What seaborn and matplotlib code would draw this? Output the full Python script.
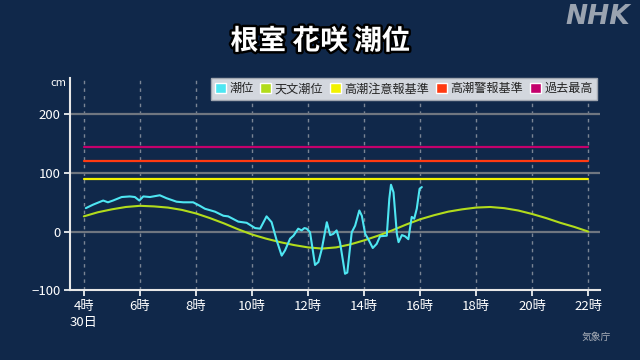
import matplotlib
matplotlib.use('Agg')
import matplotlib.pyplot as plt
import matplotlib.patheffects as pe
from matplotlib.patches import Patch
import seaborn as sns
import pandas as pd

# 潮位 (observed), hours since 0時 on 30日
obs_hour = [4.07, 4.33, 4.69, 4.86, 5.04, 5.35, 5.64, 5.82, 5.98, 6.12, 6.36, 6.71, 6.95,
            7.31, 7.55, 7.9, 8.14, 8.32, 8.68, 8.98, 9.15, 9.51, 9.81, 10.11, 10.29, 10.52,
            10.7, 10.88, 11.06, 11.18, 11.36, 11.48, 11.65, 11.77, 11.87, 11.95, 12.07,
            12.25, 12.37, 12.49, 12.67, 12.79, 12.9, 13.02, 13.14, 13.32, 13.4, 13.56,
            13.68, 13.83, 13.92, 14.04, 14.15, 14.31, 14.45, 14.57, 14.81, 14.9, 14.96,
            15.05, 15.17, 15.23, 15.35, 15.46, 15.58, 15.7, 15.79, 15.88, 15.98, 16.06]
obs_cm = [40, 46, 53, 50, 53, 59, 60, 59, 53, 60, 59, 62, 57,
          51, 50, 50, 44, 39, 34, 27, 26, 17, 15, 6, 5, 26,
          16, -15, -41, -32, -12, -7, 5, 2, 6, 5, -1,
          -57, -52, -30, 16, -6, -4, 2, -18, -72, -70, -1,
          10, 36, 27, -4, -13, -28, -21, -8, -7, 56, 80,
          67, -4, -18, -6, -8, -13, 25, 22, 39, 73, 76]

# 天文潮位 (astronomical tide), every 30 min
astro_hour = [4, 4.5, 5, 5.5, 6, 6.5, 7, 7.5, 8, 8.5, 9, 9.5, 10, 10.5, 11, 11.5, 12, 12.5,
              13, 13.5, 14, 14.5, 15, 15.5, 16, 16.5, 17, 17.5, 18, 18.5, 19, 19.5, 20,
              20.5, 21, 21.5, 22]
astro_cm = [26, 33, 38, 42, 44, 43, 41, 37, 31, 23, 14, 4, -5, -12, -18, -23, -27, -29,
            -27, -22, -15, -7, 2, 12, 21, 28, 34, 38, 41, 42, 40, 36, 30, 23, 15, 8, 0]

# reference levels
level_names = ['高潮注意報基準', '高潮警報基準', '過去最高']
level_cm = [90, 120, 145]
level_span = [4, 22]

tick_hours = [4, 6, 8, 10, 12, 14, 16, 18, 20, 22]
tick_labels = ['4時\n30日', '6時', '8時', '10時', '12時', '14時', '16時', '18時', '20時', '22時']

bg = '#10284a'
c_obs = '#4ee6f2'
c_astro = '#b2dc1c'
level_colors = ['#f2f200', '#ff3a12', '#c4006c']

sns.set_style('dark')
plt.rcParams['font.family'] = ['Noto Sans CJK JP', 'DejaVu Sans']

fig = plt.figure(figsize=(6.4, 3.6), dpi=100, facecolor=bg)
ax = fig.add_axes([0.11, 0.194, 0.828, 0.589])
ax.set_facecolor(bg)

ax.set_xlim(3.52, 22.43)
ax.set_ylim(-100, 262)

for h in tick_hours:
    ax.axvline(h, color='#7a8494', lw=1, ls=(0, (2.5, 3)), zorder=1)
for v in [0, 100, 200]:
    ax.axhline(v, color='#6f7680', lw=1.6, zorder=1)

for name, v, c in zip(level_names, level_cm, level_colors):
    d = pd.DataFrame({'h': level_span, 'cm': [v, v]})
    sns.lineplot(data=d, x='h', y='cm', ax=ax, color=c, lw=1.6, zorder=3)

astro = pd.DataFrame({'h': astro_hour, 'cm': astro_cm})
sns.lineplot(data=astro, x='h', y='cm', ax=ax, color=c_astro, lw=1.5, zorder=4)
obs = pd.DataFrame({'h': obs_hour, 'cm': obs_cm})
sns.lineplot(data=obs, x='h', y='cm', ax=ax, color=c_obs, lw=1.5, zorder=5)

ax.set_xlabel('')
ax.set_ylabel('')
ax.set_xticks(tick_hours)
ax.set_xticklabels(tick_labels, linespacing=1.3)
ax.set_yticks([-100, 0, 100, 200])
ax.tick_params(colors='white', labelsize=9.5, length=4, width=1.2, direction='out', pad=3)
ax.tick_params(axis='both', which='both', bottom=True, left=True)
for s in ['top', 'right']:
    ax.spines[s].set_visible(False)
for s in ['left', 'bottom']:
    ax.spines[s].set_color('#e8e8e8')
    ax.spines[s].set_linewidth(1.5)
ax.grid(False)

handles = [Patch(facecolor=c_obs, label='潮位'),
           Patch(facecolor=c_astro, label='天文潮位')]
handles += [Patch(facecolor=c, label=n) for n, c in zip(level_names, level_colors)]
leg = ax.legend(handles=handles, loc='upper right', bbox_to_anchor=(0.994, 1.0), ncol=5,
                fontsize=8.7, frameon=True, fancybox=False, handlelength=0.9, handleheight=0.9,
                handletextpad=0.3, columnspacing=0.55, borderpad=0.35, borderaxespad=0)
leg.get_frame().set_facecolor('#d3d7de')
leg.get_frame().set_edgecolor('#a0a6b0')
leg.get_frame().set_alpha(1)

fig.text(0.5, 0.885, '根室 花咲 潮位', ha='center', va='center', color='white',
         fontsize=20, fontweight='bold',
         path_effects=[pe.withStroke(linewidth=3.5, foreground='black')])
fig.text(0.985, 0.952, 'NHK', ha='right', va='center', color='#9aa3b0',
         fontsize=19, fontweight='bold', style='italic', family=['DejaVu Sans'])
fig.text(0.078, 0.77, 'cm', ha='left', va='center', color='white', fontsize=8)
fig.text(0.955, 0.065, '気象庁', ha='right', va='center', color='#a8aeb8', fontsize=7)

fig.savefig('out.png', dpi=100, facecolor=bg)
